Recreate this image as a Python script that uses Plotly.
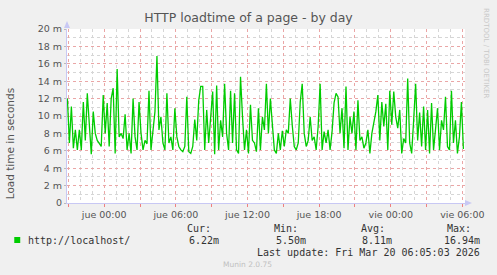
import plotly.graph_objects as go
import pandas as pd

# ---- data (load time in seconds; "m" = milli) ----
start_time = "2026-03-18 20:55"
step_minutes = 10
load_ms = [
    # Wed 20:55 ->
    12.0, 6.9, 11.1, 6.3, 8.4, 6.1, 8.4, 6.1, 11.6, 7.2, 12.6, 9.0, 5.6, 10.5, 8.0, 7.2, 6.9,
    6.5, 12.4, 8.0, 11.5, 6.5, 12.0, 13.2, 5.7, 15.4, 7.6, 8.0, 7.4, 10.2, 6.1, 8.0, 5.7, 12.0,
    7.6, 6.1, 11.6, 8.0, 6.1, 7.2, 6.8, 12.9, 6.1, 8.0, 10.5, 16.9, 8.4, 9.9, 6.9, 6.1, 12.6,
    6.9, 7.6, 6.1, 10.9, 7.6, 6.5, 6.1, 5.9, 6.5, 12.2, 5.9, 5.7, 6.5, 9.6, 7.2, 11.8, 13.4,
    13.4, 6.1, 10.7, 6.9, 9.9, 12.8, 5.6, 13.5, 6.1, 9.5, 7.6, 13.7, 8.0, 6.1, 12.9, 6.9, 12.6,
    6.1, 5.7, 14.5, 9.9, 6.1, 8.4, 5.7, 11.3, 7.2, 6.9, 5.9, 10.9, 6.1, 9.9, 8.4, 13.7, 8.0,
    12.0, 8.4, 6.1, 5.7, 8.0, 6.1, 8.3, 6.5, 8.4, 8.0, 12.0, 8.9, 6.5, 6.1, 6.9, 11.6, 13.7,
    8.0, 6.5, 7.2, 9.9, 7.2, 7.6, 6.1, 8.8, 13.7, 6.1, 8.2, 6.9, 8.4, 6.1, 8.2, 11.5, 12.6,
    12.2, 8.0, 10.9, 6.3, 13.4, 6.1, 9.9, 8.0, 10.5, 6.1, 11.8, 7.2, 7.6, 6.3, 6.9, 8.4, 5.7,
    8.0, 9.2, 10.5, 12.4, 7.2, 11.6, 8.8, 11.4, 6.1, 12.9, 9.0, 12.8, 9.9, 8.6, 10.7, 5.7, 7.4,
    6.9, 14.3, 6.9, 5.7, 9.5, 13.7, 7.2, 10.4, 6.5, 11.1, 6.1, 10.7, 5.7, 11.5, 6.1, 8.8,
    10.9, 6.1, 9.5, 8.4, 12.2, 6.5, 6.1, 12.9, 6.9, 9.5, 5.7, 7.6, 11.6, 6.2,
]
times = pd.date_range(start_time, periods=len(load_ms), freq=f"{step_minutes}min")

x_tick_vals = ["2026-03-18 21:00", "2026-03-19 00:00", "2026-03-19 03:00", "2026-03-19 06:00",
               "2026-03-19 09:00", "2026-03-19 12:00", "2026-03-19 15:00", "2026-03-19 18:00",
               "2026-03-19 21:00", "2026-03-20 00:00", "2026-03-20 03:00", "2026-03-20 06:00"]
x_tick_text = ["", "jue 00:00", "", "jue 06:00", "", "jue 12:00", "", "jue 18:00",
               "", "vie 00:00", "", "vie 06:00"]
y_tick_vals = [0, 2, 4, 6, 8, 10, 12, 14, 16, 18, 20]
y_tick_text = ["0", "2 m", "4 m", "6 m", "8 m", "10 m", "12 m", "14 m", "16 m", "18 m", "20 m"]

series_name = "http://localhost/"
stat_labels = ["Cur:", "Min:", "Avg:", "Max:"]
stat_values = ["6.22m", "5.50m", "8.11m", "16.94m"]
last_update = "Last update: Fri Mar 20 06:05:03 2026"

# ---- layout geometry (pixels) ----
W, H = 497, 275
L, R, T, B = 67, 30, 29, 72
PW, PH = W - L - R, H - T - B


def px(x):
    return (x - L) / PW


def py(y):
    return (H - B - y) / PH


GREEN = "#00cc00"
TXT = "#555555"
MONO = "DejaVu Sans Mono"
SANS = "DejaVu Sans"
AXIS = "#c8c8f4"

fig = go.Figure()
fig.add_trace(go.Scatter(x=times, y=load_ms, mode="lines",
                         line=dict(color=GREEN, width=1.3), hoverinfo="skip",
                         showlegend=False))

fig.update_layout(
    width=W, height=H,
    margin=dict(l=L, r=R, t=T, b=B, pad=0),
    paper_bgcolor="#f0f0f0", plot_bgcolor="#ffffff",
    font=dict(family=SANS, color=TXT, size=9.5),
    title=dict(text="HTTP loadtime of a page - by day", x=0.5, xanchor="center",
               y=1 - 18 / H, yanchor="middle",
               font=dict(family=SANS, size=12.5, color="#555555")),
    xaxis=dict(
        range=["2026-03-18 20:53", "2026-03-20 06:13"],
        tickmode="array", tickvals=x_tick_vals, ticktext=x_tick_text,
        showgrid=True, gridcolor="#eaa6a6", griddash="dot", gridwidth=1,
        ticks="outside", ticklen=3, tickcolor="#ee8080",
        showline=True, linecolor=AXIS, linewidth=1,
        zeroline=False,
        tickfont=dict(family=SANS, size=9.5, color=TXT),
        minor=dict(dtick=3600000, tick0="2026-03-18 00:00", showgrid=True,
                   gridcolor="#d6d6d6", griddash="dot", gridwidth=1),
        fixedrange=True,
    ),
    yaxis=dict(
        range=[0, 20],
        tickmode="array", tickvals=y_tick_vals, ticktext=y_tick_text,
        showgrid=True, gridcolor="#eaa6a6", griddash="dot", gridwidth=1,
        ticks="outside", ticklen=2, tickcolor="#bbbbbb",
        showline=True, linecolor=AXIS, linewidth=1,
        zeroline=False,
        tickfont=dict(family=SANS, size=9.5, color=TXT),
        minor=dict(dtick=1, tick0=0, showgrid=True,
                   gridcolor="#d6d6d6", griddash="dot", gridwidth=1),
        fixedrange=True,
    ),
)

annotations = []
# y-axis title
annotations.append(dict(text="Load time in seconds", xref="paper", yref="paper",
                        x=px(10), y=py(144), textangle=-90, showarrow=False,
                        xanchor="center", yanchor="middle",
                        font=dict(family=SANS, size=10.5, color=TXT)))
# rrdtool credit
annotations.append(dict(text="RRDTOOL / TOBI OETIKER", xref="paper", yref="paper",
                        x=px(488), y=py(53), textangle=90, showarrow=False,
                        xanchor="center", yanchor="middle",
                        font=dict(family=SANS, size=7, color="#c8c8c8")))
# legend series name
annotations.append(dict(text=series_name, xref="paper", yref="paper",
                        x=px(26), y=py(240), showarrow=False,
                        xanchor="left", yanchor="middle",
                        font=dict(family=MONO, size=10, color="#333333")))
label_x = [186, 273, 360, 447]
value_right = [222, 309, 396, 484]
for lab, lx in zip(stat_labels, label_x):
    annotations.append(dict(text=lab, xref="paper", yref="paper",
                            x=px(lx), y=py(228), showarrow=False,
                            xanchor="left", yanchor="middle",
                            font=dict(family=MONO, size=10, color="#333333")))
for val, vx in zip(stat_values, value_right):
    annotations.append(dict(text=val, xref="paper", yref="paper",
                            x=px(vx), y=py(240), showarrow=False,
                            xanchor="right", yanchor="middle",
                            font=dict(family=MONO, size=10, color="#333333")))
annotations.append(dict(text=last_update, xref="paper", yref="paper",
                        x=px(484), y=py(252), showarrow=False,
                        xanchor="right", yanchor="middle",
                        font=dict(family=MONO, size=10, color="#333333")))
annotations.append(dict(text="Munin 2.0.75", xref="paper", yref="paper",
                        x=px(248), y=py(264), showarrow=False,
                        xanchor="center", yanchor="middle",
                        font=dict(family=SANS, size=7.5, color="#c0c0c0")))
fig.update_layout(annotations=annotations)

shapes = []
# legend colour square
shapes.append(dict(type="rect", xref="paper", yref="paper",
                   x0=px(14), x1=px(20), y0=py(243), y1=py(237),
                   fillcolor=GREEN, line=dict(width=0)))
# axis arrows
up = f"M {px(64)},{py(28)} L {px(70)},{py(28)} L {px(67)},{py(21)} Z"
right = f"M {px(467)},{py(200)} L {px(467)},{py(206)} L {px(474)},{py(203)} Z"
for p in (up, right):
    shapes.append(dict(type="path", xref="paper", yref="paper", path=p,
                       fillcolor=AXIS, line=dict(width=0)))
fig.update_layout(shapes=shapes)

fig.write_html("out.html", config={"displayModeBar": False})
